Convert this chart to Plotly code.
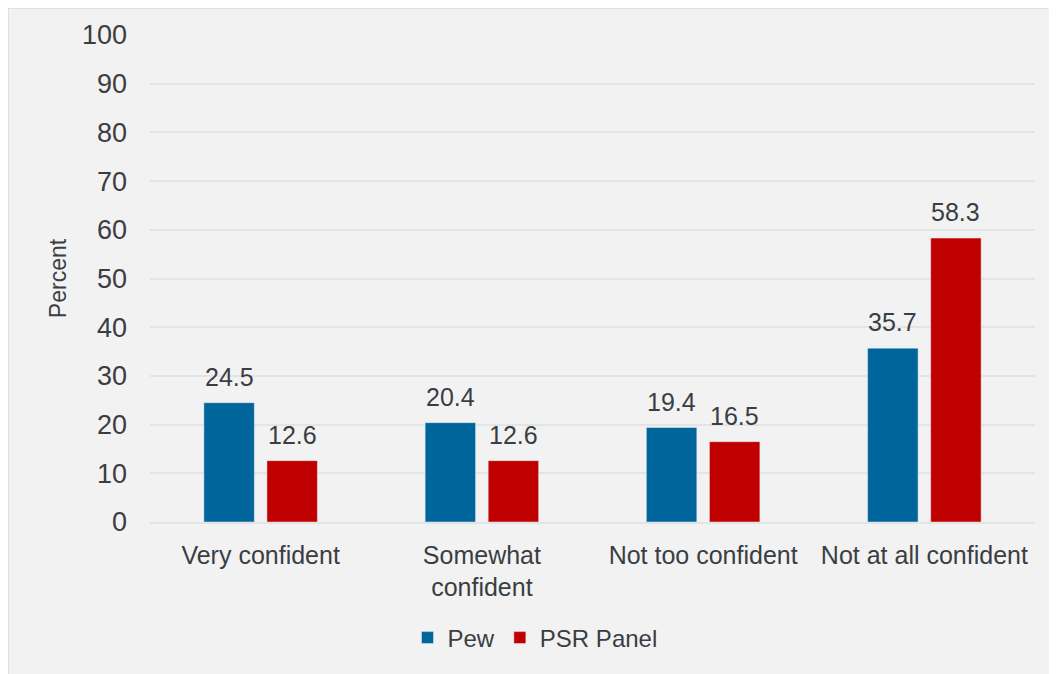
import plotly.graph_objects as go

categories = ["Very confident", "Somewhat<br>confident", "Not too confident", "Not at all confident"]
pew = [24.5, 20.4, 19.4, 35.7]
psr = [12.6, 12.6, 16.5, 58.3]
y_ticks = [0, 10, 20, 30, 40, 50, 60, 70, 80, 90, 100]

FONT = "Liberation Sans"
TXT = "#3a3e43"

fig = go.Figure()
fig.add_trace(go.Bar(x=categories, y=pew, name="Pew", marker=dict(color="#00659a")))
fig.add_trace(go.Bar(x=categories, y=psr, name="PSR Panel", marker=dict(color="#c00000")))

# value labels placed through the data scales
annotations = []
for series, shift in ((pew, -31.5), (psr, 31.5)):
    for cat, v in zip(categories, series):
        annotations.append(dict(x=cat, y=v, xref="x", yref="y", text=f"{v:.1f}",
                                showarrow=False, xshift=shift, yshift=26,
                                font=dict(size=25, color=TXT, family=FONT)))

OFF = 8  # page body margin
W, H = 1057 - OFF, 674 - OFF
L, T = 150 - OFF, 35 - OFF
R = W - (1035 - OFF)
B = H - (522 - OFF)
pw, ph = W - L - R, H - T - B

def px_x(p):
    return (p - OFF - L) / pw

def px_y(p):
    return (H - B - (p - OFF)) / ph

fig.update_layout(
    width=W, height=H,
    margin=dict(l=L, r=R, t=T, b=B),
    paper_bgcolor="#f2f2f2",
    plot_bgcolor="rgba(0,0,0,0)",
    font=dict(family=FONT, size=24, color=TXT),
    barmode="group",
    bargap=0.43,
    bargroupgap=0.2,
    showlegend=True,
    annotations=annotations,
    legend=dict(orientation="h", x=px_x(535), xanchor="center", y=px_y(638), yanchor="middle",
                font=dict(size=24, color=TXT, family=FONT), itemwidth=30,
                bgcolor="rgba(0,0,0,0)", traceorder="normal"),
    yaxis=dict(range=[0, 100], tickvals=y_ticks, showgrid=True, gridcolor="#e2e5e5",
               gridwidth=1.5, zeroline=False, showline=False, ticks="",
               tickfont=dict(size=27, color=TXT), ticklabelstandoff=22,
               title=dict(text="Percent", font=dict(size=23, color=TXT), standoff=8)),
    xaxis=dict(showline=True, linecolor="#e2e5e5", linewidth=1.5, ticks="",
               tickfont=dict(size=25, color=TXT), ticklabelstandoff=10),
    shapes=[dict(type="rect", xref="paper", yref="paper", layer="below",
                 x0=px_x(8), x1=px_x(1070), y0=px_y(690), y1=px_y(8),
                 fillcolor="rgba(0,0,0,0)", line=dict(color="#d9dcdc", width=1.5))],
)

fig.write_html("out.html")
